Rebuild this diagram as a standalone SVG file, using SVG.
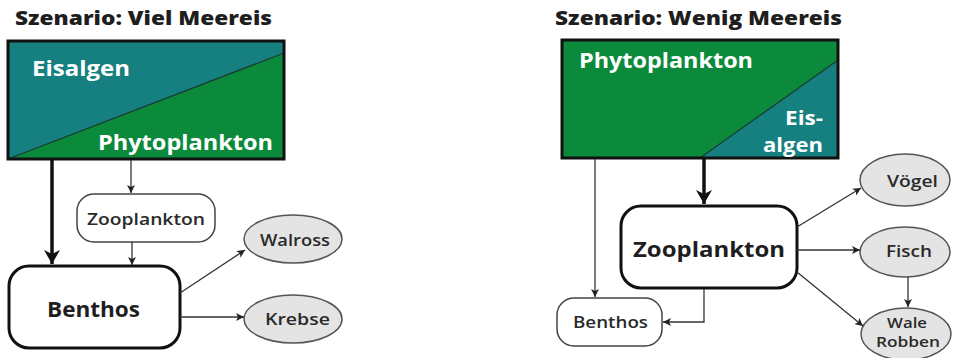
<svg xmlns="http://www.w3.org/2000/svg" width="957" height="358" viewBox="0 0 957 358">
<style>
text{font-family:"Open Sans","Liberation Sans",sans-serif}
.title{font-weight:800;font-size:19px;fill:#1e1e1e}
.wt{font-weight:700;font-size:21px;fill:#fff}
.wt2{font-weight:700;font-size:19.5px;fill:#fff}
.big{font-weight:700;font-size:22px;fill:#1e1e1e}
.sm{font-weight:600;font-size:16px;fill:#2a2a2a}
.sm2{font-weight:600;font-size:14px;fill:#2a2a2a}
.ell{fill:#e4e4e4;stroke:#555;stroke-width:1.5}
.thin{stroke:#333;stroke-width:1.3;fill:none}
.thick{stroke:#111;stroke-width:3.5;fill:none}
.bbox{fill:#fff;stroke:#111;stroke-width:3}
.sbox{fill:#fff;stroke:#444;stroke-width:1.5}
.teal{fill:#167f80}
.green{fill:#0b8a3b}
</style>
<defs>
<marker id="ah" markerUnits="userSpaceOnUse" markerWidth="10" markerHeight="8" refX="8" refY="4" orient="auto">
<path d="M0,0 L8,4 L0,8 L2,4 Z" fill="#222"/>
</marker>
<marker id="ahb" markerUnits="userSpaceOnUse" markerWidth="18" markerHeight="18" refX="14" refY="8" orient="auto">
<path d="M0,0 L14,8 L0,16 L4,8 Z" fill="#111"/>
</marker>
</defs>

<text class="title" x="15" y="25" textLength="257" lengthAdjust="spacingAndGlyphs">Szenario: Viel Meereis</text>
<text class="title" x="555" y="25" textLength="287" lengthAdjust="spacingAndGlyphs">Szenario: Wenig Meereis</text>

<g id="left-producers">
<rect x="8" y="41" width="276" height="118" class="teal"/>
<polygon points="8,159 284,53 284,159" class="green"/>
<line x1="8" y1="159" x2="284" y2="53" stroke="#1a3a30" stroke-width="1.2"/>
<rect x="8" y="41" width="276" height="118" fill="none" stroke="#111" stroke-width="3"/>
<text class="wt" x="32" y="76" textLength="98" lengthAdjust="spacingAndGlyphs">Eisalgen</text>
<text class="wt" x="98" y="150" textLength="175" lengthAdjust="spacingAndGlyphs">Phytoplankton</text>
</g>

<g id="left-zooplankton">
<rect x="77" y="194" width="138" height="48" rx="17" class="sbox"/>
<text class="sm" x="87" y="225" textLength="118" lengthAdjust="spacingAndGlyphs">Zooplankton</text>
</g>

<g id="left-benthos">
<rect x="9" y="266" width="171" height="82" rx="20" class="bbox"/>
<text class="big" x="47" y="317" textLength="93" lengthAdjust="spacingAndGlyphs">Benthos</text>
</g>

<g id="walross">
<ellipse cx="293" cy="239" rx="49" ry="24" class="ell"/>
<text class="sm" x="260" y="246" textLength="70" lengthAdjust="spacingAndGlyphs">Walross</text>
</g>

<g id="krebse">
<ellipse cx="293" cy="319" rx="49" ry="24" class="ell"/>
<text class="sm" x="265" y="325" textLength="65" lengthAdjust="spacingAndGlyphs">Krebse</text>
</g>

<g id="right-producers">
<rect x="562" y="40" width="276" height="118" class="green"/>
<polygon points="700,158 838,60 838,158" class="teal"/>
<line x1="700" y1="158" x2="838" y2="60" stroke="#1a3a30" stroke-width="1.2"/>
<rect x="562" y="40" width="276" height="118" fill="none" stroke="#111" stroke-width="3"/>
<text class="wt" x="579" y="68" textLength="174" lengthAdjust="spacingAndGlyphs">Phytoplankton</text>
<text class="wt2" x="785" y="125" textLength="38" lengthAdjust="spacingAndGlyphs">Eis-</text>
<text class="wt2" x="763" y="152" textLength="60" lengthAdjust="spacingAndGlyphs">algen</text>
</g>

<g id="right-zooplankton">
<rect x="621" y="206" width="176" height="82" rx="20" class="bbox"/>
<text class="big" x="633" y="257" textLength="152" lengthAdjust="spacingAndGlyphs">Zooplankton</text>
</g>

<g id="right-benthos">
<rect x="557" y="298" width="105" height="48" rx="17" class="sbox"/>
<text class="sm" x="573" y="328" textLength="75" lengthAdjust="spacingAndGlyphs">Benthos</text>
</g>

<g id="voegel">
<ellipse cx="905" cy="180" rx="45" ry="26" class="ell"/>
<text class="sm" x="887" y="187" textLength="51" lengthAdjust="spacingAndGlyphs">Vögel</text>
</g>

<g id="fisch">
<ellipse cx="905" cy="252" rx="45" ry="25" class="ell"/>
<text class="sm" x="886" y="257" textLength="46" lengthAdjust="spacingAndGlyphs">Fisch</text>
</g>

<g id="wale-robben">
<ellipse cx="906" cy="334" rx="45" ry="26" class="ell"/>
<text class="sm2" x="887" y="328" textLength="40" lengthAdjust="spacingAndGlyphs">Wale</text>
<text class="sm2" x="876" y="347" textLength="64" lengthAdjust="spacingAndGlyphs">Robben</text>
</g>

<g id="connectors">
<line x1="52" y1="160" x2="52" y2="264" class="thick" marker-end="url(#ahb)"/>
<line x1="131" y1="160" x2="131" y2="193" class="thin" marker-end="url(#ah)"/>
<line x1="132" y1="242" x2="132" y2="265" class="thin" marker-end="url(#ah)"/>
<line x1="180" y1="293" x2="245" y2="250" class="thin" marker-end="url(#ah)"/>
<line x1="180" y1="317" x2="244" y2="317" class="thin" marker-end="url(#ah)"/>

<line x1="704" y1="159" x2="704" y2="204" class="thick" marker-end="url(#ahb)"/>
<line x1="595" y1="159" x2="595" y2="297" class="thin" marker-end="url(#ah)"/>
<polyline points="704,289 704,322 663,322" class="thin" marker-end="url(#ah)"/>
<line x1="797" y1="227" x2="861" y2="188" class="thin" marker-end="url(#ah)"/>
<line x1="797" y1="250" x2="860" y2="250" class="thin" marker-end="url(#ah)"/>
<line x1="797" y1="272" x2="863" y2="326" class="thin" marker-end="url(#ah)"/>
<line x1="908" y1="277" x2="908" y2="307" class="thin" marker-end="url(#ah)"/>
</g>
</svg>
